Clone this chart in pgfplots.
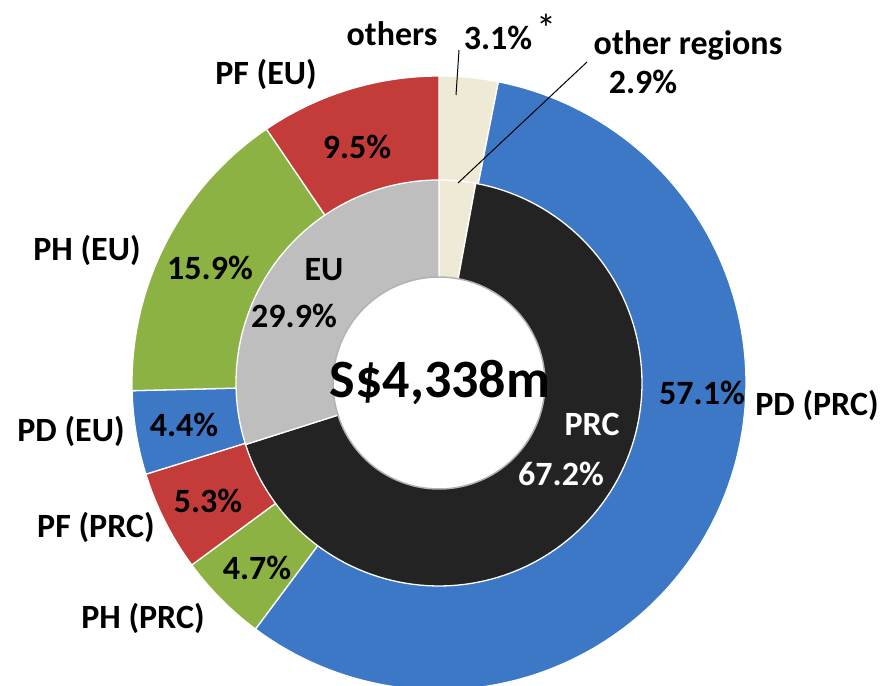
\documentclass[border=0pt]{standalone}
\usepackage{pgfplots}
\pgfplotsset{compat=1.18}
\usepackage{fontspec}
\setmainfont{Carlito}
\definecolor{cBlue}{RGB}{60,120,198}
\definecolor{cGreen}{RGB}{140,178,68}
\definecolor{cRed}{RGB}{196,60,57}
\definecolor{cBeige}{RGB}{238,234,214}
\definecolor{cGrey}{RGB}{190,190,190}
\definecolor{cBlack}{RGB}{35,35,35}
% outer ring, clockwise from 12 o'clock (percent)
\def\oA{3.1}  % others
\def\oB{57.1} % PD (PRC)
\def\oC{4.7}  % PH (PRC)
\def\oD{5.3}  % PF (PRC)
\def\oE{4.4}  % PD (EU)
\def\oF{15.9} % PH (EU)
\def\oG{9.5}  % PF (EU)
% inner ring
\def\iA{2.9}  % other regions
\def\iB{67.2} % PRC
\def\iC{29.9} % EU
\pgfmathsetmacro\aA{90}
\pgfmathsetmacro\aB{\aA-3.6*\oA}
\pgfmathsetmacro\aC{\aB-3.6*\oB}
\pgfmathsetmacro\aD{\aC-3.6*\oC}
\pgfmathsetmacro\aE{\aD-3.6*\oD}
\pgfmathsetmacro\aF{\aE-3.6*\oE}
\pgfmathsetmacro\aG{\aF-3.6*\oF}
\pgfmathsetmacro\aH{\aG-3.6*\oG}
\pgfmathsetmacro\bA{90}
\pgfmathsetmacro\bB{\bA-3.6*\iA}
\pgfmathsetmacro\bC{\bB-3.6*\iB}
\pgfmathsetmacro\bD{\bC-3.6*\iC}
\newcommand\pieslice[4]{%
  \addplot[fill=#1, draw=white, line width=1.3pt, line join=round, domain=#3:#2, samples=120, variable=\t]
    ({#4*cos(t)},{#4*sin(t)}) -- (axis cs:0,0) -- cycle;}
\newcommand\lf{\bfseries\fontsize{34}{40}\selectfont}
\begin{document}
\begin{tikzpicture}
\begin{axis}[
  width=883pt, height=685pt, scale only axis,
  xmin=-439, xmax=444, ymin=-302, ymax=383,
  axis line style={draw=none}, xtick=\empty, ytick=\empty,
  clip=true,
]
% outer ring
\pieslice{cBeige}{\aA}{\aB}{307}
\pieslice{cBlue}{\aB}{\aC}{307}
\pieslice{cGreen}{\aC}{\aD}{307}
\pieslice{cRed}{\aD}{\aE}{307}
\pieslice{cBlue}{\aE}{\aF}{307}
\pieslice{cGreen}{\aF}{\aG}{307}
\pieslice{cRed}{\aG}{\aH}{307}
% inner ring
\pieslice{cBeige}{\bA}{\bB}{203}
\pieslice{cBlack}{\bB}{\bC}{203}
\pieslice{cGrey}{\bC}{\bD}{203}
% hole
\addplot[fill=white, draw=black!30, line width=1.5pt, domain=0:360, samples=180, variable=\t]
  ({106*cos(t)},{106*sin(t)}) -- cycle;
% leader lines
\addplot[black, line width=1pt] coordinates {(20,333) (17,288)};
\addplot[black, line width=1pt] coordinates {(148,321) (19,200)};
% labels
\node[font=\lf, inner sep=0pt] at (axis cs:-47,349) {others};
\node[font=\lf, inner sep=0pt] at (axis cs:59,345) {3.1\%};
\node[font=\fontsize{40}{46}\selectfont, inner sep=0pt] at (axis cs:107,355) {*};
\node[font=\lf, inner sep=0pt] at (axis cs:249,338) {other regions};
\node[font=\lf, inner sep=0pt] at (axis cs:204,301) {2.9\%};
\node[font=\lf, inner sep=0pt] at (axis cs:-173,309) {PF (EU)};
\node[font=\lf, inner sep=0pt] at (axis cs:-82,236) {9.5\%};
\node[font=\lf, inner sep=0pt] at (axis cs:-352,133) {PH (EU)};
\node[font=\lf, inner sep=0pt] at (axis cs:-229,115) {15.9\%};
\node[font=\lf, inner sep=0pt] at (axis cs:-115,113) {EU};
\node[font=\lf, inner sep=0pt] at (axis cs:-145,67) {29.9\%};
\node[font=\bfseries\fontsize{54}{62}\selectfont, inner sep=0pt] at (axis cs:1,0) {S\$4,338m};
\node[font=\lf, inner sep=0pt] at (axis cs:263,-10) {57.1\%};
\node[font=\lf, inner sep=0pt] at (axis cs:378,-22) {PD (PRC)};
\node[font=\lf, inner sep=0pt, text=white] at (axis cs:153,-41) {PRC};
\node[font=\lf, inner sep=0pt, text=white] at (axis cs:122,-91) {67.2\%};
\node[font=\lf, inner sep=0pt] at (axis cs:-368,-48) {PD (EU)};
\node[font=\lf, inner sep=0pt] at (axis cs:-255,-42) {4.4\%};
\node[font=\lf, inner sep=0pt] at (axis cs:-343,-144) {PF (PRC)};
\node[font=\lf, inner sep=0pt] at (axis cs:-231,-118) {5.3\%};
\node[font=\lf, inner sep=0pt] at (axis cs:-182,-185) {4.7\%};
\node[font=\lf, inner sep=0pt] at (axis cs:-296,-235) {PH (PRC)};
\end{axis}
\end{tikzpicture}
\end{document}
